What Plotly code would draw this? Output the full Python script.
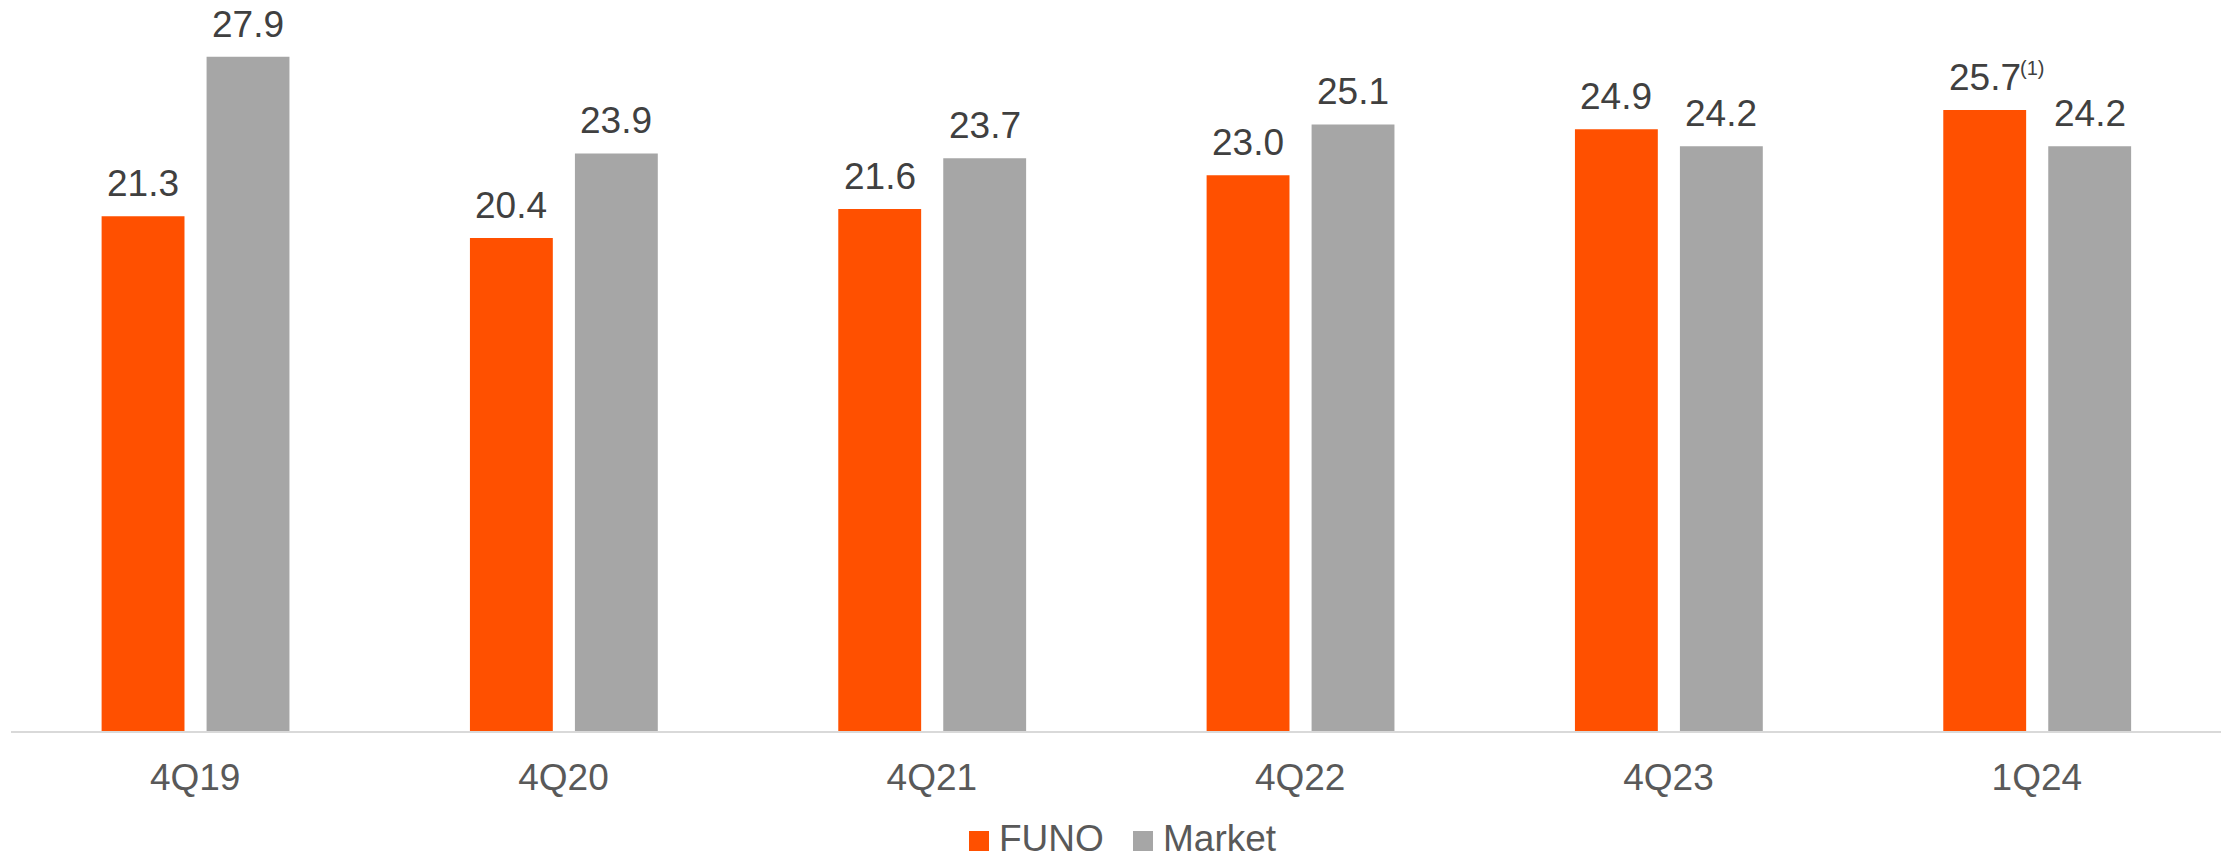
import plotly.graph_objects as go

# Quarter labels and values for each series
quarters = ["4Q19", "4Q20", "4Q21", "4Q22", "4Q23", "1Q24"]
funo_values = [21.3, 20.4, 21.6, 23.0, 24.9, 25.7]
market_values = [27.9, 23.9, 23.7, 25.1, 24.2, 24.2]
series_names = ["FUNO", "Market"]
footnote_marks = ["", "", "", "", "", "(1)"]

ORANGE = "#FF5000"
GRAY = "#A6A6A6"
LABEL_COLOR = "#404040"
TICK_COLOR = "#595959"
FONT = "Liberation Sans, Arial, sans-serif"

W, H = 2232, 858
M_L, M_R, M_T, M_B = 11, 11, 20, 127

x_idx = list(range(len(quarters)))
bar_w = 0.225
funo_off = -0.254
market_off = 0.031

fig = go.Figure()
fig.add_trace(go.Bar(
    x=x_idx, y=funo_values, name=series_names[0],
    width=bar_w, offset=funo_off,
    marker=dict(color=ORANGE, line=dict(width=0)),
    showlegend=False, hoverinfo="x+y",
))
fig.add_trace(go.Bar(
    x=x_idx, y=market_values, name=series_names[1],
    width=bar_w, offset=market_off,
    marker=dict(color=GRAY, line=dict(width=0)),
    showlegend=False, hoverinfo="x+y",
))

annotations = []
# value labels above each bar
for i, (f, m, note) in enumerate(zip(funo_values, market_values, footnote_marks)):
    fx = i + funo_off + bar_w / 2
    mx = i + market_off + bar_w / 2
    for x, v in ((fx, f), (mx, m)):
        annotations.append(dict(
            x=x, y=v, xref="x", yref="y", text=f"{v:.1f}",
            showarrow=False, xanchor="center", yanchor="bottom", yshift=10,
            font=dict(family=FONT, size=37, color=LABEL_COLOR),
        ))
    if note:
        annotations.append(dict(
            x=fx, y=f, xref="x", yref="y", text=note,
            showarrow=False, xanchor="left", yanchor="bottom",
            xshift=33, yshift=29,
            font=dict(family=FONT, size=20, color=LABEL_COLOR),
        ))

# legend: square swatches with series names, centred below the axis
plot_w = W - M_L - M_R
plot_h = H - M_T - M_B


def px_to_paper_x(px):
    return (px - M_L) / plot_w


def px_to_paper_y(py):
    return (H - M_B - py) / plot_h


shapes = []
legend_items = [(series_names[0], ORANGE, 969), (series_names[1], GRAY, 1133)]
for name, color, left in legend_items:
    shapes.append(dict(
        type="rect", xref="paper", yref="paper",
        x0=px_to_paper_x(left), x1=px_to_paper_x(left + 20),
        y0=px_to_paper_y(851), y1=px_to_paper_y(831),
        fillcolor=color, line=dict(width=0),
    ))
    annotations.append(dict(
        x=px_to_paper_x(left + 28), y=px_to_paper_y(838),
        xref="paper", yref="paper", text=name, showarrow=False,
        xanchor="left", yanchor="middle",
        font=dict(family=FONT, size=37, color=TICK_COLOR),
    ))

fig.update_layout(
    width=W, height=H,
    margin=dict(l=M_L, r=M_R, t=M_T, b=M_B, pad=0),
    paper_bgcolor="white", plot_bgcolor="white",
    barmode="overlay",
    showlegend=False,
    annotations=annotations,
    shapes=shapes,
    font=dict(family=FONT, color=TICK_COLOR),
)
fig.update_xaxes(
    range=[-0.5, len(quarters) - 0.5],
    tickmode="array", tickvals=x_idx, ticktext=quarters,
    showline=True, linecolor="#D9D9D9", linewidth=2,
    showgrid=False, zeroline=False, ticks="",
    ticklabelstandoff=13,
    tickfont=dict(family=FONT, size=37, color=TICK_COLOR),
)
fig.update_yaxes(
    range=[0, 29.42], visible=False, showgrid=False, zeroline=False,
)

fig.write_html("out.html")
